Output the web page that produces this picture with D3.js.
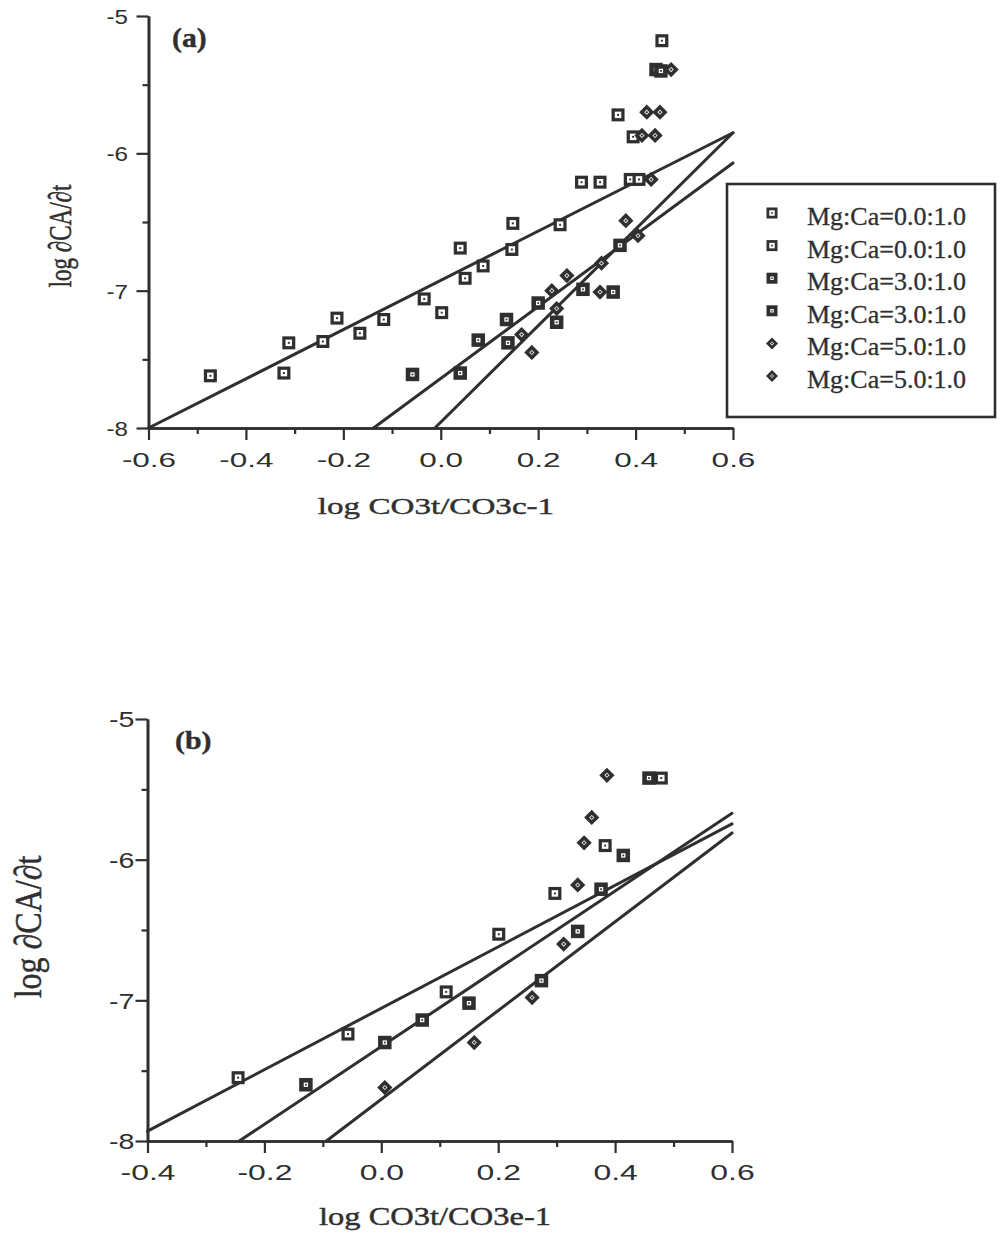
<!DOCTYPE html>
<html>
<head>
<meta charset="utf-8">
<script src="https://cdn.jsdelivr.net/npm/d3@7"></script>
<style>
  body { margin: 0; background: #fff; }
  svg { display: block; background: #fff; }
</style>
</head>
<body>
<svg width="1002" height="1234"></svg>
<script>
// ---- data ----
// panel (a)
var a_mg0 = [[-0.473,-7.62],[-0.322,-7.60],[-0.312,-7.38],[-0.242,-7.37],[-0.213,-7.20],[-0.166,-7.31],
             [-0.117,-7.21],[-0.034,-7.06],[0.002,-7.16],[0.040,-6.69],[0.050,-6.91],[0.087,-6.82],
             [0.146,-6.70],[0.148,-6.51],[0.245,-6.52],[0.289,-6.21],[0.327,-6.21],[0.389,-6.19],
             [0.407,-6.19],[0.364,-5.72],[0.395,-5.88],[0.454,-5.18]];
var a_mg3 = [[-0.058,-7.61],[0.040,-7.60],[0.077,-7.36],[0.135,-7.21],[0.138,-7.38],[0.200,-7.09],
             [0.238,-7.23],[0.292,-6.99],[0.354,-7.01],[0.368,-6.67],[0.442,-5.39],[0.452,-5.40]];
var a_mg5 = [[0.187,-7.45],[0.166,-7.32],[0.238,-7.13],[0.228,-7.00],[0.259,-6.89],[0.327,-7.01],
             [0.330,-6.80],[0.380,-6.49],[0.405,-6.60],[0.432,-6.19],[0.413,-5.87],[0.440,-5.87],
             [0.423,-5.70],[0.450,-5.70],[0.473,-5.39]];
var a_fit0 = [[-0.6,-8.0],[0.6,-5.85]];
var a_fit3 = [[-0.138,-8.0],[0.6,-6.07]];
var a_fit5 = [[-0.012,-8.0],[0.6,-5.85]];

// panel (b)
var b_mg0 = [[-0.245,-7.55],[-0.057,-7.24],[0.111,-6.94],[0.201,-6.53],[0.297,-6.24],[0.383,-5.90],[0.479,-5.42]];
var b_mg3 = [[-0.129,-7.60],[0.006,-7.30],[0.070,-7.14],[0.150,-7.02],[0.274,-6.86],[0.336,-6.51],
             [0.376,-6.21],[0.414,-5.97],[0.458,-5.42]];
var b_mg5 = [[0.006,-7.62],[0.159,-7.30],[0.258,-6.98],[0.312,-6.60],[0.336,-6.18],[0.347,-5.88],
             [0.360,-5.70],[0.386,-5.40]];
var b_fit0 = [[-0.4,-7.93],[0.6,-5.746]];
var b_fit3 = [[-0.243,-8.0],[0.6,-5.67]];
var b_fit5 = [[-0.094,-8.0],[0.6,-5.81]];

// axes
var yMajor = [-8,-7,-6,-5];
var yMinor = [-7.5,-6.5,-5.5];
var a_xMajor = [-0.6,-0.4,-0.2,0.0,0.2,0.4,0.6];
var a_xMinor = [-0.5,-0.3,-0.1,0.1,0.3,0.5];
var b_xMajor = [-0.4,-0.2,0.0,0.2,0.4,0.6];
var b_xMinor = [-0.3,-0.1,0.1,0.3,0.5];

// legend
var legendLabels = ["Mg:Ca=0.0:1.0","Mg:Ca=0.0:1.0","Mg:Ca=3.0:1.0","Mg:Ca=3.0:1.0","Mg:Ca=5.0:1.0","Mg:Ca=5.0:1.0"];
var legendTypes  = ["open","open","dark","dark","diamond","diamond"];

var INK = "#2f2f2f";
var svg = d3.select("svg");

// draw one marker set; px/py give the pixel position of a point
function addMarkers(g, pts, type, px, py, s) {
  var m = g.selectAll(null).data(pts).enter().append("g")
    .attr("transform", function(d) {
      return "translate(" + px(d) + "," + py(d) + ")" + (type == "diamond" ? " rotate(45)" : "");
    });
  var outer = type == "diamond" ? s * 0.77 : s;
  var inner = type == "open" ? s * 0.5 : (type == "dark" ? s * 0.32 : s * 0.26);
  var dot = type == "dark" ? s * 0.13 : s * 0.15;
  m.append("rect").attr("x", -outer/2).attr("y", -outer/2).attr("width", outer).attr("height", outer).attr("fill", INK);
  m.append("rect").attr("x", -inner/2).attr("y", -inner/2).attr("width", inner).attr("height", inner).attr("fill", "#fff");
  m.append("rect").attr("x", -dot/2).attr("y", -dot/2).attr("width", dot).attr("height", dot).attr("fill", INK);
}

// stretched text (the scanned figure's lettering is wider than the font)
function addText(str, tx, ty, opt) {
  var g = svg.append("g")
    .attr("transform", "translate(" + tx + "," + ty + ") scale(" + (opt.k || 1) + ",1)" + (opt.rot ? " rotate(-90)" : ""));
  g.append("text")
    .attr("text-anchor", opt.anchor || "middle")
    .attr("font-family", opt.family || "'Liberation Serif', 'Times New Roman', serif")
    .attr("font-size", opt.size)
    .attr("font-weight", opt.weight || "normal")
    .attr("fill", INK)
    .attr("stroke", INK).attr("stroke-width", 0.4)
    .text(str);
}

function drawPanel(p) {
  var x = d3.scaleLinear().domain(p.xDomain).range([p.left, p.right]);
  var y = d3.scaleLinear().domain([-8, -5]).range([p.bottom, p.top]);
  var g = svg.append("g");

  // minor ticks
  g.append("g").attr("transform", "translate(0," + p.bottom + ")")
    .call(d3.axisBottom(x).tickValues(p.xMinor).tickSize(6).tickSizeOuter(0).tickFormat(""));
  g.append("g").attr("transform", "translate(" + p.left + ",0)")
    .call(d3.axisLeft(y).tickValues(yMinor).tickSize(6).tickSizeOuter(0).tickFormat(""));

  // major ticks + labels
  var gx = g.append("g").attr("transform", "translate(0," + p.bottom + ")")
    .call(d3.axisBottom(x).tickValues(p.xMajor).tickSize(12).tickSizeOuter(0)
      .tickFormat(function(d) { return d.toFixed(1); }));
  gx.selectAll("text")
    .attr("y", p.xLabY).attr("dy", null)
    .attr("transform", "scale(" + p.xLabK + ",1)");

  var gy = g.append("g").attr("transform", "translate(" + p.left + ",0)")
    .call(d3.axisLeft(y).tickValues(yMajor).tickSize(12).tickSizeOuter(0)
      .tickFormat(function(d) { return String(d); }));
  gy.selectAll("text")
    .attr("x", -p.yLabGap / p.yLabK).attr("dy", "0.36em")
    .attr("transform", "scale(" + p.yLabK + ",1)");

  g.selectAll(".domain").attr("stroke", INK).attr("stroke-width", 2.6);
  g.selectAll(".tick line").attr("stroke", INK).attr("stroke-width", 2.2);
  g.selectAll(".tick text").attr("fill", INK)
    .attr("font-family", "'Liberation Sans', Arial, sans-serif")
    .attr("font-size", p.tickFont);

  // fitted lines
  var line = d3.line().x(function(d) { return x(d[0]); }).y(function(d) { return y(d[1]); });
  p.fits.forEach(function(f) {
    g.append("path").attr("d", line(f)).attr("fill", "none")
      .attr("stroke", INK).attr("stroke-width", 3).attr("stroke-linecap", "round");
  });

  // points
  var px = function(d) { return x(d[0]); }, py = function(d) { return y(d[1]); };
  addMarkers(g, p.mg0, "open", px, py, 13);
  addMarkers(g, p.mg3, "dark", px, py, 13.5);
  addMarkers(g, p.mg5, "diamond", px, py, 14);
}

drawPanel({
  xDomain: [-0.6, 0.6], left: 148.5, right: 733, top: 16, bottom: 428,
  xMajor: a_xMajor, xMinor: a_xMinor,
  xLabY: 39, xLabK: 1.5, yLabGap: 20.5, yLabK: 1.15, tickFont: 21,
  fits: [a_fit0, a_fit3, a_fit5], mg0: a_mg0, mg3: a_mg3, mg5: a_mg5
});
drawPanel({
  xDomain: [-0.4, 0.6], left: 147.5, right: 732, top: 719, bottom: 1141,
  xMajor: b_xMajor, xMinor: b_xMinor,
  xLabY: 39, xLabK: 1.45, yLabGap: 13, yLabK: 1.3, tickFont: 22,
  fits: [b_fit0, b_fit3, b_fit5], mg0: b_mg0, mg3: b_mg3, mg5: b_mg5
});

// panel letters and axis titles
addText("(a)", 172, 47, { size: 27, weight: "bold", anchor: "start", k: 1.1 });
addText("(b)", 175, 749, { size: 26, weight: "bold", anchor: "start", k: 1.15 });
addText("log CO3t/CO3c-1", 436, 514, { size: 23, k: 1.44 });
addText("log CO3t/CO3e-1", 435, 1225, { size: 25, k: 1.3 });
addText("log \u2202CA/\u2202t", 71, 236, { size: 23, k: 1.4, rot: true });
addText("log \u2202CA/\u2202t", 41, 927, { size: 32, k: 1.2, rot: true });

// legend
var lg = svg.append("g");
lg.append("rect").attr("x", 727).attr("y", 184).attr("width", 268).attr("height", 233)
  .attr("fill", "none").attr("stroke", INK).attr("stroke-width", 2.6);
var rowY = d3.scalePoint().domain(d3.range(legendLabels.length)).range([225, 388]);
legendLabels.forEach(function(lbl, i) {
  addMarkers(lg, [i], legendTypes[i], function() { return 772; }, function(d) { return rowY(d) - 12; }, 11);
  lg.append("text").attr("x", 807).attr("y", rowY(i))
    .attr("font-family", "'Liberation Serif', 'Times New Roman', serif")
    .attr("font-size", 26).attr("fill", INK)
    .attr("stroke", INK).attr("stroke-width", 0.3)
    .text(lbl);
});
</script>
</body>
</html>
